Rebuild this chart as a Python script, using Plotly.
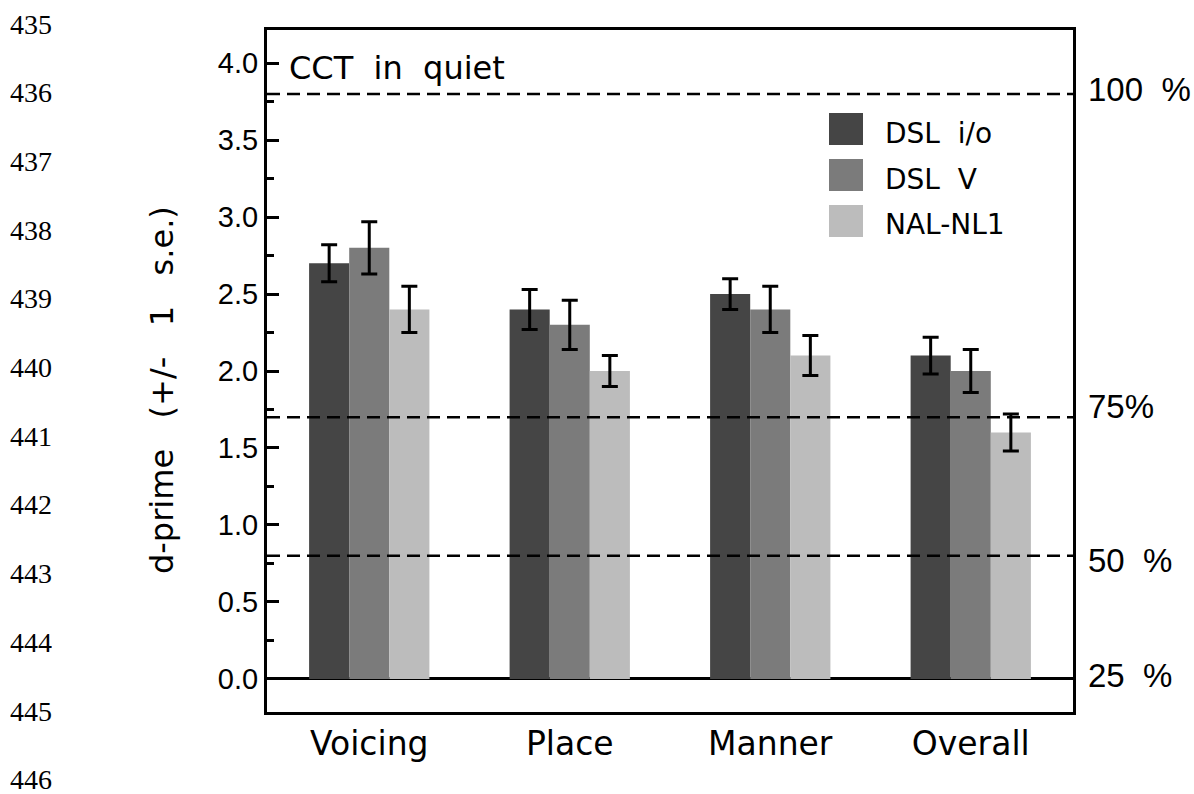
import plotly.graph_objects as go

categories = ["Voicing", "Place", "Manner", "Overall"]
series_names = ["DSL i/o", "DSL V", "NAL-NL1"]
series_labels = ["DSL\u00a0\u00a0i/o", "DSL\u00a0\u00a0V", "NAL-NL1"]
dsl_io = [2.7, 2.4, 2.5, 2.1]
dsl_io_se = [0.12, 0.13, 0.10, 0.12]
dsl_v = [2.8, 2.3, 2.4, 2.0]
dsl_v_se = [0.17, 0.16, 0.15, 0.14]
nal_nl1 = [2.4, 2.0, 2.1, 1.6]
nal_nl1_se = [0.15, 0.10, 0.13, 0.12]
colors = ["#454545", "#7b7b7b", "#bcbcbc"]

ref_levels = [3.8, 1.7, 0.8]
right_labels = ["100\u00a0\u00a0%", "75%", "50\u00a0\u00a0%", "25\u00a0\u00a0%"]
right_label_y = [3.8, 1.7, 0.8, 0.0]
right_label_shift = [4, 11, -5, 3]
line_numbers = [str(n) for n in range(435, 447)]

W, H = 1194, 794
L, R, T, B = 267, 121, 30, 82
PW, PH = W - L - R, H - T - B


def px(x):
    return (x - L) / PW


def py(y):
    return (H - B - y) / PH


fig = go.Figure()
for name, vals, errs, col in zip(series_names, [dsl_io, dsl_v, nal_nl1],
                                 [dsl_io_se, dsl_v_se, nal_nl1_se], colors):
    fig.add_trace(go.Bar(
        x=list(range(len(categories))), y=vals, name=name,
        marker=dict(color=col, line=dict(width=0)),
        error_y=dict(type="data", array=errs, visible=True,
                     color="black", thickness=3, width=8),
        showlegend=False,
    ))

shapes = []
for lv in ref_levels:
    shapes.append(dict(type="line", xref="paper", x0=0, x1=1, yref="y", y0=lv, y1=lv,
                       line=dict(color="black", width=2.5, dash="13px,7px"), layer="above"))

annotations = []
# legend drawn manually
leg_rows = [113, 159, 205]
for lab, col, ytop in zip(series_labels, colors, leg_rows):
    shapes.append(dict(type="rect", xref="paper", yref="paper",
                       x0=px(829), x1=px(863), y0=py(ytop + 32), y1=py(ytop),
                       fillcolor=col, line=dict(width=0)))
    annotations.append(dict(xref="paper", yref="paper", x=px(883), y=py(ytop + 20),
                            text=lab, showarrow=False, xanchor="left", yanchor="middle",
                            font=dict(family="DejaVu Sans", size=28, color="black")))

annotations.append(dict(xref="paper", yref="y", x=px(287), y=4.0, yshift=-5,
                        text="CCT\u00a0\u00a0in\u00a0\u00a0quiet",
                        showarrow=False, xanchor="left", yanchor="middle",
                        font=dict(family="DejaVu Sans", size=32, color="black")))

for txt, yv, sh in zip(right_labels, right_label_y, right_label_shift):
    annotations.append(dict(xref="paper", yref="y", x=px(1086), y=yv, yshift=sh, text=txt,
                            showarrow=False, xanchor="left", yanchor="middle",
                            font=dict(family="Liberation Sans", size=33, color="black")))

for i, ln in enumerate(line_numbers):
    annotations.append(dict(xref="paper", yref="paper", x=px(8), y=py(23.5 + 68.7 * i),
                            text=ln, showarrow=False, xanchor="left", yanchor="middle",
                            height=26, valign="middle",
                            font=dict(family="Liberation Serif", size=28, color="black")))

annotations.append(dict(xref="paper", yref="paper", x=px(162), y=py(390),
                        text="d-prime\u00a0\u00a0\u00a0(+/-\u00a0\u00a0\u00a01\u00a0\u00a0\u00a0s.e.)",
                        textangle=-90, showarrow=False, xanchor="center", yanchor="middle",
                        font=dict(family="DejaVu Sans", size=32, color="black")))

fig.update_layout(
    width=W, height=H,
    margin=dict(l=L, r=R, t=T, b=B, pad=0),
    paper_bgcolor="white", plot_bgcolor="white",
    barmode="group", bargap=0.4, bargroupgap=0,
    shapes=shapes, annotations=annotations,
    font=dict(family="Liberation Sans", size=24, color="black"),
)
fig.update_xaxes(
    range=[-0.51, 3.51], tickmode="array", tickvals=list(range(len(categories))),
    ticktext=categories, ticks="", showgrid=False, zeroline=False,
    showline=True, linecolor="black", linewidth=3, mirror=True,
    tickfont=dict(family="DejaVu Sans", size=33),
)
fig.update_yaxes(
    range=[-0.215, 4.215], tickmode="array",
    tickvals=[0, 0.5, 1.0, 1.5, 2.0, 2.5, 3.0, 3.5, 4.0],
    ticktext=["0.0", "0.5", "1.0", "1.5", "2.0", "2.5", "3.0", "3.5", "4.0"],
    ticks="inside", ticklen=12, tickwidth=3, tickcolor="black",
    minor=dict(tickvals=[0.25, 0.75, 1.25, 1.75, 2.25, 2.75, 3.25, 3.75],
               ticks="inside", ticklen=7, tickwidth=2.5, tickcolor="black", showgrid=False),
    showgrid=False, zeroline=True, zerolinecolor="black", zerolinewidth=2.5,
    showline=True, linecolor="black", linewidth=3, mirror=True,
    tickfont=dict(family="Liberation Sans", size=29),
)

fig.write_html("out.html")
